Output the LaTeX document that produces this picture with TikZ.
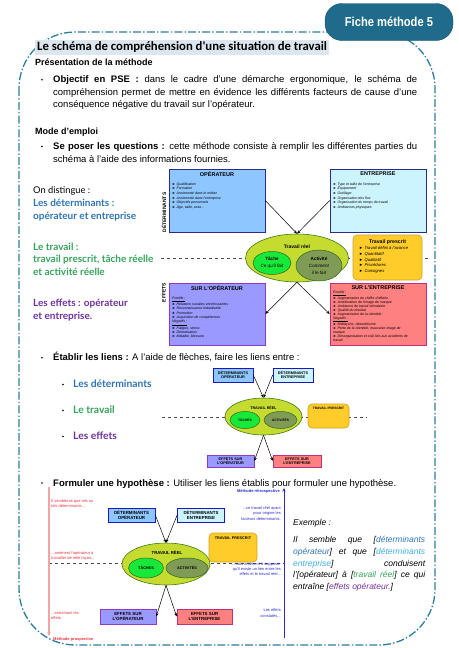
\documentclass[tikz,border=0pt]{standalone}
\usepackage{fontspec}
\usepackage{graphicx}
\setmainfont{Liberation Sans}
\newfontfamily\titlefont{Carlito}
\newfontfamily\colfont{Lato}
\usetikzlibrary{arrows.meta,positioning,shapes.geometric}

\definecolor{framecol}{HTML}{2C7DA0}
\definecolor{tabcol}{HTML}{1E6B8C}
\definecolor{titlebg}{HTML}{DCE6EE}
\definecolor{detblue}{HTML}{2E74B5}
\definecolor{entcyan}{HTML}{3FAEE0}
\definecolor{travgreen}{HTML}{35A35A}
\definecolor{effpurple}{HTML}{7030A0}
\definecolor{opfill}{HTML}{8EC6FF}
\definecolor{entfill}{HTML}{CCF4FF}
\definecolor{boxline}{HTML}{2B2B8C}
\definecolor{effopfill}{HTML}{9999FF}
\definecolor{effopline}{HTML}{8A3CC0}
\definecolor{effentfill}{HTML}{FF8080}
\definecolor{effentline}{HTML}{C0307A}
\definecolor{presfill}{HTML}{FFCC29}
\definecolor{presline}{HTML}{C9A227}
\definecolor{reelfill}{HTML}{C6DB30}
\definecolor{reelline}{HTML}{3F7A18}
\definecolor{tachefill}{HTML}{18E83A}
\definecolor{tacheline}{HTML}{2F6A1A}
\definecolor{actfill}{HTML}{7F9B55}
\definecolor{prored}{HTML}{E8333F}
\definecolor{proline}{HTML}{F3A3A3}
\definecolor{retroblue}{HTML}{2A2AC8}

\begin{document}
\begin{tikzpicture}[x=1pt, y=-1pt,
  txt/.style={anchor=base west, inner sep=0pt},
  bodytxt/.style={font=\fontsize{9.5}{12.5}\selectfont},
  headtxt/.style={font=\bfseries\fontsize{9}{11}\selectfont},
  coltxt/.style={font=\colfont\fontsize{9.3}{11}\selectfont},
  colbold/.style={font=\colfont\bfseries\fontsize{10}{12}\selectfont},
  subtxt/.style={font=\colfont\bfseries\fontsize{10.3}{12}\selectfont},
  bul/.style={circle, fill=black, inner sep=0pt, minimum size=1.8pt},
  frameline/.style={draw=framecol, line width=1.3pt, rounded corners=56pt, dash pattern=on 8pt off 2.2pt on 1.4pt off 2.2pt},
  tabbox/.style={rectangle, rounded corners=17pt, fill=tabcol, draw=tabcol!70!black, line width=0.4pt, text=white, font=\bfseries\fontsize{13}{14}\selectfont},
  titlebox/.style={anchor=base west, fill=titlebg, inner xsep=2pt, inner ysep=2pt, text height=8.5pt, text depth=3pt, font=\titlefont\bfseries\fontsize{12.7}{14}\selectfont},
  bigbox/.style={rectangle, line width=0.6pt, inner sep=0pt, minimum width=96pt, minimum height=63pt},
  boxhead/.style={anchor=north, inner sep=0pt, font=\bfseries\fontsize{5.5}{6}\selectfont},
  boxlist/.style={anchor=north west, inner sep=0pt, align=left, font=\itshape\fontsize{3.5}{4.6}\selectfont},
  vlabel/.style={rotate=90, inner sep=0pt, font=\bfseries\fontsize{5}{6}\selectfont},
  reelell/.style={ellipse, draw=reelline, fill=reelfill, line width=0.6pt, inner sep=0pt},
  tacheell/.style={ellipse, draw=tacheline, fill=tachefill, line width=0.5pt, inner sep=0pt, align=center},
  actell/.style={ellipse, draw=tacheline, fill=actfill, line width=0.5pt, inner sep=0pt, align=center},
  presbox/.style={rectangle, rounded corners=4pt, draw=presline, fill=presfill, line width=0.6pt, inner sep=0pt},
  smallbox/.style={rectangle, line width=0.6pt, inner sep=0pt, align=center, font=\bfseries\fontsize{3.8}{4.4}\selectfont},
  lbl/.style={inner sep=0pt, font=\bfseries\fontsize{3.7}{4.4}\selectfont},
  arr/.style={-{Stealth[length=3.5pt,width=2.8pt]}, line width=0.5pt},
  cutline/.style={dashed, line width=0.6pt, draw=black!70},
  protxt/.style={anchor=north west, inner sep=0pt, align=left, text=prored, font=\fontsize{4}{5.5}\selectfont},
  retrotxt/.style={anchor=north east, inner sep=0pt, align=right, text=retroblue, font=\fontsize{4}{5.3}\selectfont},
  extxt/.style={font=\itshape\fontsize{8.5}{11.6}\selectfont}]
  \useasboundingbox (0,0) rectangle (458,648);

  % Frame and tab
  \draw[frameline] (19,32) rectangle (435,645);
  \node[tabbox, minimum width=128pt, minimum height=37pt] (tab) at (389,22) {\scalebox{0.86}[1]{Fiche méthode 5}};

  % Title and presentation
  \node[titlebox] (title) at (35,50) {Le schéma de compréhension d'une situation de travail};
  \node[txt, headtxt] (pres) at (35,65) {Présentation de la méthode};
  \node[bul] (b-obj) at (42,79.7) {};
  \node[txt, bodytxt] (obj-l1) at (53,82.7) {\makebox[364pt][s]{\textbf{Objectif en PSE :} dans le cadre d'une démarche ergonomique, le schéma de}};
  \node[txt, bodytxt] (obj-l2) at (53,95.2) {\makebox[364pt][s]{compréhension permet de mettre en évidence les différents facteurs de cause d'une}};
  \node[txt, bodytxt] (obj-l3) at (53,107.7) {conséquence négative du travail sur l'opérateur.};

  \node[txt, headtxt] (mode) at (35,134) {Mode d'emploi};
  \node[bul] (b-quest) at (42,146.5) {};
  \node[txt, bodytxt] (quest-l1) at (53,149.5) {\makebox[364pt][s]{\textbf{Se poser les questions :} cette méthode consiste à remplir les différentes parties du}};
  \node[txt, bodytxt] (quest-l2) at (53,162) {schéma à l'aide des informations fournies.};

  % Left column
  \node[txt, coltxt] (dist) at (33,193.3) {On distingue :};
  \node[txt, colbold, text=detblue] (det-t1) at (33,206) {Les déterminants :};
  \node[txt, colbold, text=detblue] (det-t2) at (33,219) {opérateur et entreprise};
  \node[txt, colbold, text=travgreen] (trav-t1) at (33,250) {Le travail :};
  \node[txt, colbold, text=travgreen] (trav-t2) at (33,262.7) {travail prescrit, tâche réelle};
  \node[txt, colbold, text=travgreen] (trav-t3) at (33,275.3) {et activité réelle};
  \node[txt, colbold, text=effpurple] (eff-t1) at (33,306.7) {Les effets : opérateur};
  \node[txt, colbold, text=effpurple] (eff-t2) at (33,319.3) {et entreprise.};

  % Diagram 1: full schema
  \coordinate (cut1-l) at (161,258);
  \coordinate (cut1-r) at (428,258);
  \draw[cutline] (cut1-l) -- (cut1-r);

  \node[bigbox, draw=boxline, fill=opfill] (op-box) at (217,200.5) {};
  \node[boxhead, below=2.5pt of op-box.north] (op-head) {OPÉRATEUR};
  \node[boxlist] (op-list) at (172,182.5) {► Qualification\\► Formation\\► Ancienneté dans le métier\\► Ancienneté dans l'entreprise\\► Objectifs personnels\\► Âge, taille, sexe...};

  \node[bigbox, draw=boxline, fill=entfill] (ent-box) at (378,200.5) {};
  \node[boxhead, below=2.5pt of ent-box.north] (ent-head) {ENTREPRISE};
  \node[boxlist] (ent-list) at (333,182.5) {► Type et taille de l'entreprise\\► Équipement\\► Outillage\\► Organisation des flux\\► Organisation du temps de travail\\► Ambiances physiques};

  \node[vlabel] (det-lbl) at (164,212.5) {DÉTERMINANTS};

  \node[reelell, minimum width=103pt, minimum height=48pt] (reel) at (297,258) {};
  \node[inner sep=0pt, font=\bfseries\fontsize{5}{6}\selectfont] (reel-lbl) at (297,246.5) {Travail réel};
  \node[tacheell, minimum width=38pt, minimum height=23pt, font=\fontsize{4.6}{7}\selectfont] (tache) at (272,263) {\textbf{Tâche}\\\textit{Ce qu'il fait}};
  \node[actell, minimum width=46pt, minimum height=31pt, font=\fontsize{4.6}{7}\selectfont] (activite) at (319,265.5) {\textbf{Activité}\\\textit{Comment}\\\textit{il le fait}};

  \node[presbox, minimum width=69pt, minimum height=45pt] (pres-box) at (387.5,257.5) {};
  \node[inner sep=0pt, font=\bfseries\fontsize{5.2}{6}\selectfont] (pres-head) at (387.5,242.3) {Travail prescrit};
  \node[boxlist, font=\itshape\fontsize{4.2}{5.6}\selectfont] (pres-list) at (359,246.7) {► Travail défini à l'avance\\► Quantitatif\\► Qualitatif\\► Procédures\\► Consignes};

  \node[bigbox, draw=effopline, fill=effopfill, minimum height=62pt] (effop-box) at (217,314) {};
  \node[boxhead, below=2.5pt of effop-box.north] (effop-head) {SUR L'OPÉRATEUR};
  \node[boxlist, font=\itshape\fontsize{3.5}{4.4}\selectfont] (effop-list) at (172,297) {\underline{Positifs :}\\► Relations sociales enrichissantes\\► Reconnaissance individuelle\\► Promotion\\► Acquisition de compétences\\\underline{Négatifs :}\\► Fatigue, stress\\► Démotivation\\► Maladie, blessure};

  \node[bigbox, draw=effentline, fill=effentfill, minimum height=62pt] (effent-box) at (378,314) {};
  \node[boxhead, below=2.5pt of effent-box.north] (effent-head) {SUR L'ENTREPRISE};
  \node[boxlist, font=\itshape\fontsize{3.5}{4}\selectfont] (effent-list) at (333,291) {\underline{Positifs :}\\► Augmentation du chiffre d'affaire\\► Amélioration de l'image de marque\\► Ambiance de travail stimulante\\► Qualité du résultat\\► Augmentation de la clientèle\\\underline{Négatifs :}\\► Malfaçons, Absentéisme\\► Perte de la clientèle, mauvaise image de\\marque\\► Désorganisation et coût liés aux accidents de\\travail};

  \node[vlabel] (eff-lbl) at (164,292.5) {EFFETS};

  \draw[arr] (op-box.east) -- (reel.north);
  \draw[arr] (ent-box.west) -- (reel.north);
  \draw[arr] (reel.south) -- (effop-box.east);
  \draw[arr] (reel.south) -- (effent-box.west);

  % Establishing the links
  \node[bul] (b-liens) at (42,357.7) {};
  \node[txt, bodytxt] (liens) at (53,360.7) {\textbf{Établir les liens :} A l'aide de flèches, faire les liens entre :};
  \node[bul] (b-det) at (63,384.5) {};
  \node[txt, subtxt, text=detblue] (sub-det) at (73,387.7) {Les déterminants};
  \node[bul] (b-trav) at (63,410.5) {};
  \node[txt, subtxt, text=travgreen] (sub-trav) at (73,413.7) {Le travail};
  \node[bul] (b-eff) at (63,436.5) {};
  \node[txt, subtxt, text=effpurple] (sub-eff) at (73,439.7) {Les effets};

  % Diagram 2: empty schema
  \coordinate (cut2-l) at (162,417);
  \coordinate (cut2-r) at (367,417);
  \draw[cutline] (cut2-l) -- (cut2-r);

  \node[smallbox, draw=boxline!60!blue, fill=opfill, minimum width=40pt, minimum height=14pt] (det-op2) at (233,375) {DÉTERMINANTS\\OPÉRATEUR};
  \node[smallbox, draw=boxline!60!blue, fill=entfill, minimum width=40pt, minimum height=14pt] (det-ent2) at (293,375) {DÉTERMINANTS\\ENTREPRISE};
  \node[reelell, minimum width=77pt, minimum height=37pt] (reel2) at (263.5,416.5) {};
  \node[lbl] (reel2-lbl) at (263.5,407.5) {TRAVAIL RÉEL};
  \node[tacheell, minimum width=30pt, minimum height=17pt, font=\bfseries\fontsize{3.3}{4}\selectfont] (taches2) at (245,420) {TÂCHES};
  \node[actell, minimum width=33pt, minimum height=17pt, font=\bfseries\fontsize{3.3}{4}\selectfont] (activites2) at (280.5,420) {ACTIVITÉS};
  \node[presbox, minimum width=41pt, minimum height=24pt] (pres2) at (328.5,416) {};
  \node[lbl, font=\bfseries\fontsize{3.3}{4}\selectfont] (pres2-lbl) at (328.5,408.5) {TRAVAIL PRESCRIT};
  \node[smallbox, draw=effopline, fill=effopfill, minimum width=47pt, minimum height=12pt] (eff-op2) at (230.5,461) {EFFETS SUR\\L'OPÉRATEUR};
  \node[smallbox, draw=effentline, fill=effentfill, minimum width=48pt, minimum height=12pt] (eff-ent2) at (297,461) {EFFETS SUR\\L'ENTREPRISE};

  \draw[arr] (det-op2.east) -- (reel2.north);
  \draw[arr] (det-ent2.west) -- (reel2.north);
  \draw[arr] (reel2.south) -- (eff-op2.east);
  \draw[arr] (reel2.south) -- (eff-ent2.west);

  % Hypothesis
  \node[bul] (b-hyp) at (42,483) {};
  \node[txt, bodytxt] (hyp) at (53,486) {\textbf{Formuler une hypothèse :} Utiliser les liens établis pour formuler une hypothèse.};

  % Diagram 3: reading directions
  \coordinate (pro-top) at (49,487);
  \coordinate (pro-bot) at (49,636);
  \coordinate (retro-bot) at (284,638);
  \coordinate (retro-top) at (284,488);
  \coordinate (cut3-l) at (49,563);
  \coordinate (cut3-r) at (284,563);
  \draw[cutline] (cut3-l) -- (cut3-r);
  \draw[draw=proline, line width=1.3pt, -{Stealth[length=4pt,width=3.5pt,fill=prored!70!black]}] (pro-top) -- (pro-bot);
  \draw[draw=retroblue, line width=0.8pt, -{Stealth[length=3.5pt,width=3pt]}] (retro-bot) -- (retro-top);

  \node[txt, text=prored, font=\bfseries\fontsize{4}{5}\selectfont] (pro-lbl) at (53,640) {Méthode prospective};
  \node[anchor=base east, inner sep=0pt, text=retroblue, font=\bfseries\fontsize{4}{5}\selectfont] (retro-lbl) at (280,492) {Méthode rétrospective};

  \node[protxt] (pro-t1) at (51,499) {Il semblerait que tels ou\\tels déterminants...};
  \node[protxt] (pro-t2) at (51,551) {...amènent l'opérateur à\\travailler de telle façon...};
  \node[protxt] (pro-t3) at (51,611) {...entraînant les\\effets.};
  \node[retrotxt] (retro-t1) at (281,506.3) {...ce travail réel ayant\\pour origine les\\facteurs déterminants.};
  \node[retrotxt] (retro-t2) at (281,562) {...nous amènent à supposer\\qu'il existe un lien entre les\\effets et le travail réel...};
  \node[retrotxt] (retro-t3) at (281,608.7) {Les effets\\constatés...};

  \node[smallbox, draw=boxline!60!blue, fill=opfill, minimum width=47pt, minimum height=14pt, font=\bfseries\fontsize{4.4}{5}\selectfont] (det-op3) at (131.5,515) {DÉTERMINANTS\\OPÉRATEUR};
  \node[smallbox, draw=boxline!60!blue, fill=entfill, minimum width=47pt, minimum height=14pt, font=\bfseries\fontsize{4.4}{5}\selectfont] (det-ent3) at (201,515) {DÉTERMINANTS\\ENTREPRISE};
  \node[reelell, minimum width=88pt, minimum height=42pt] (reel3) at (166,564) {};
  \node[lbl, font=\bfseries\fontsize{4.3}{5}\selectfont] (reel3-lbl) at (167,553) {TRAVAIL RÉEL};
  \node[tacheell, minimum width=35pt, minimum height=20pt, font=\bfseries\fontsize{3.8}{4.4}\selectfont] (taches3) at (146,568) {TÂCHES};
  \node[actell, minimum width=42pt, minimum height=20pt, font=\bfseries\fontsize{3.8}{4.4}\selectfont] (activites3) at (187,568) {ACTIVITÉS};
  \node[presbox, minimum width=48pt, minimum height=29pt] (pres3) at (233,547.5) {};
  \node[lbl, font=\bfseries\fontsize{3.8}{4.4}\selectfont] (pres3-lbl) at (233,538) {TRAVAIL PRESCRIT};
  \node[smallbox, draw=effopline, fill=effopfill, minimum width=56pt, minimum height=15pt, font=\bfseries\fontsize{4.4}{5.2}\selectfont] (eff-op3) at (128,616.5) {EFFETS SUR\\L'OPÉRATEUR};
  \node[smallbox, draw=effentline, fill=effentfill, minimum width=55pt, minimum height=15pt, font=\bfseries\fontsize{4.4}{5.2}\selectfont] (eff-ent3) at (204.5,616.5) {EFFETS SUR\\L'ENTREPRISE};

  \draw[arr] (det-op3.east) -- (reel3.north);
  \draw[arr] (det-ent3.west) -- (reel3.north);
  \draw[arr] (reel3.south) -- (eff-op3.east);
  \draw[arr] (reel3.south) -- (eff-ent3.west);

  % Example
  \node[txt, extxt] (ex-head) at (293,525) {Exemple :};
  \node[txt, extxt] (ex-l1) at (293,542.7) {\makebox[132pt][s]{Il semble que [\textcolor{detblue}{déterminants}}};
  \node[txt, extxt] (ex-l2) at (293,554.3) {\makebox[132pt][s]{\textcolor{detblue}{opérateur}] et que [\textcolor{entcyan}{déterminants}}};
  \node[txt, extxt] (ex-l3) at (293,566) {\makebox[132pt][s]{\textcolor{entcyan}{entreprise}] conduisent}};
  \node[txt, extxt] (ex-l4) at (293,577.5) {\makebox[132pt][s]{l'[opérateur] à [\textcolor{travgreen}{travail réel}] ce qui}};
  \node[txt, extxt] (ex-l5) at (293,589) {entraîne [\textcolor{effpurple}{effets opérateur.}]};
\end{tikzpicture}
\end{document}
